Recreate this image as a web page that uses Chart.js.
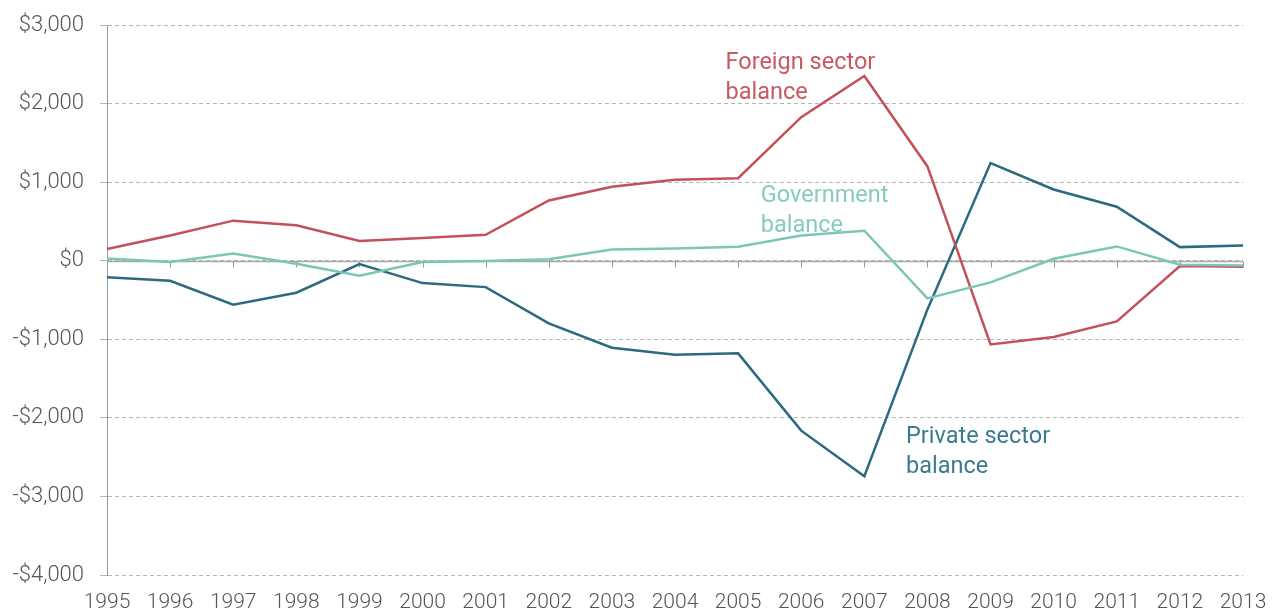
<!DOCTYPE html>
<html><head><meta charset="utf-8">
<script src="https://cdn.jsdelivr.net/npm/chart.js@4/dist/chart.umd.min.js"></script>
<style>html,body{margin:0;padding:0;background:#fff;overflow:hidden}</style>
</head><body>
<canvas id="c" width="1273" height="615"></canvas>
<script>
const years = ["1995","1996","1997","1998","1999","2000","2001","2002","2003","2004","2005","2006","2007","2008","2009","2010","2011","2012","2013"];
const foreignBalance    = [150, 320, 510, 450, 250, 290, 330, 767, 940, 1030, 1050, 1827, 2350, 1200, -1065, -972, -772, -68, -76];
const governmentBalance = [29, -17, 93, -38, -191, -17, -5, 20, 144, 156, 178, 322, 382, -480, -276, 25, 182, -51, -60];
const privateBalance    = [-212, -255, -560, -407, -43, -285, -336, -798, -1107, -1196, -1179, -2163, -2744, -620, 1242, 907, 687, 173, 195];
const yTickValues = [3000, 2000, 1000, 0, -1000, -2000, -3000, -4000];

const colors = { foreign: '#c4505a', government: '#7cc6b6', private: '#2b6a7f' };
const labelColors = { foreign: '#c85962', government: '#86cbbd', private: '#3a7b8f' };

// label anchors in data space: [category index, value of first baseline]
const annotationText = [
  { lines: ["Foreign sector", "balance"], x: 9.8, y: 2443, color: labelColors.foreign },
  { lines: ["Government", "balance"], x: 10.36, y: 745, color: labelColors.government },
  { lines: ["Private sector", "balance"], x: 12.66, y: -2316, color: labelColors.private }
];

function fmt(v) {
  const s = '$' + Math.abs(v).toLocaleString('en-US');
  return v < 0 ? '-' + s : s;
}

const zeroAxisPlugin = {
  id: 'zeroAxis',
  beforeDatasetsDraw(chart) {
    const { ctx, chartArea, scales } = chart;
    const y0 = Math.round(scales.y.getPixelForValue(0)) + 0.5;
    ctx.save();
    ctx.strokeStyle = '#a8a8a8';
    ctx.lineWidth = 1.5;
    ctx.setLineDash([]);
    ctx.beginPath();
    ctx.moveTo(chartArea.left, y0);
    ctx.lineTo(chartArea.right, y0);
    ctx.stroke();
    ctx.lineWidth = 1;
    ctx.strokeStyle = '#999';
    years.forEach((yr, i) => {
      const x = Math.round(scales.x.getPixelForValue(i)) + 0.5;
      ctx.beginPath();
      ctx.moveTo(x, y0);
      ctx.lineTo(x, y0 + 6);
      ctx.stroke();
    });
    ctx.restore();
  },
  afterDatasetsDraw(chart) {
    const { ctx, scales } = chart;
    ctx.save();
    ctx.font = '400 23.5px Roboto';
    ctx.textAlign = 'left';
    ctx.textBaseline = 'alphabetic';
    annotationText.forEach(a => {
      const px = scales.x.getPixelForValue(a.x);
      const py = scales.y.getPixelForValue(a.y);
      ctx.fillStyle = a.color;
      a.lines.forEach((t, k) => ctx.fillText(t, px, py + k * 30));
    });
    ctx.restore();
  }
};

const mk = (label, data, color) => ({
  label, data, borderColor: color, backgroundColor: color,
  borderWidth: 2.5, pointRadius: 0, tension: 0, fill: false
});

new Chart(document.getElementById('c'), {
  type: 'line',
  data: {
    labels: years,
    datasets: [
      mk('Government balance', governmentBalance, colors.government),
      mk('Foreign sector balance', foreignBalance, colors.foreign),
      mk('Private sector balance', privateBalance, colors.private)
    ]
  },
  options: {
    responsive: false,
    devicePixelRatio: 1,
    animation: false,
    layout: { padding: { top: 25, right: 30, bottom: 0, left: 0 } },
    plugins: { legend: { display: false }, tooltip: { enabled: false } },
    scales: {
      x: {
        type: 'category',
        offset: false,
        grid: { display: false },
        border: { display: false },
        ticks: { color: '#555', font: { family: 'Roboto', size: 21, weight: 300 }, padding: 7, maxRotation: 0, autoSkip: false },
        afterFit(s) { s.height = 40; s.paddingLeft = 0; s.paddingRight = 0; }
      },
      y: {
        min: -4000, max: 3000,
        afterBuildTicks(s) { s.ticks = yTickValues.map(v => ({ value: v })); },
        ticks: { color: '#555', font: { family: 'Roboto', size: 22, weight: 300 }, padding: 16, callback: v => fmt(v) },
        grid: { color: '#b5b5b5', lineWidth: 1, tickLength: 7, drawTicks: true },
        border: { display: true, color: '#999', width: 1, dash: [4, 3] },
        afterFit(s) { s.width = 107; s.paddingTop = 0; s.paddingBottom = 0; }
      }
    }
  },
  plugins: [zeroAxisPlugin]
});
</script>
</body></html>
